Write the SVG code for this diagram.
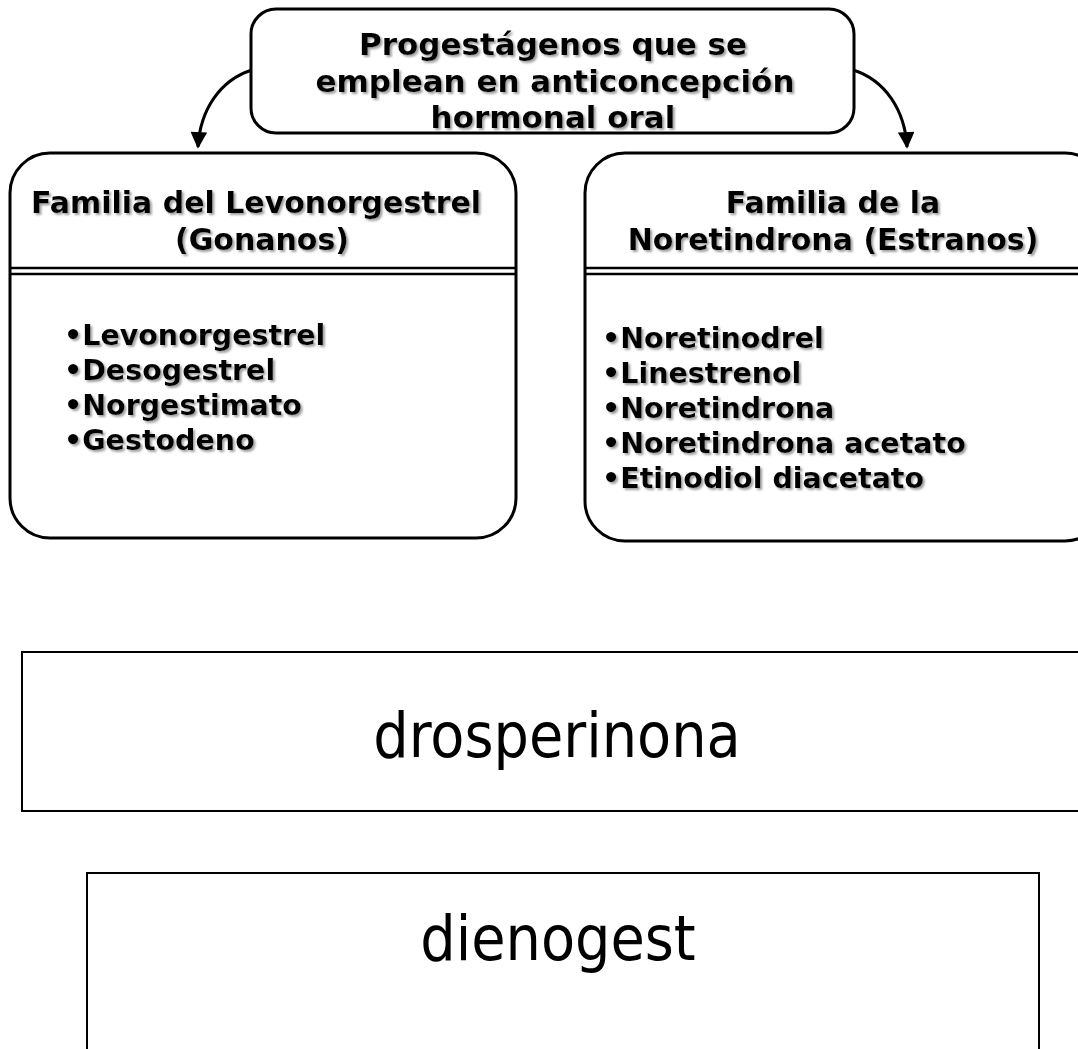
<svg xmlns="http://www.w3.org/2000/svg" width="1078" height="1049" viewBox="0 0 1078 1049">
<defs>
<filter id="sh" x="-5%" y="-20%" width="110%" height="140%">
<feDropShadow dx="2" dy="2" stdDeviation="1" flood-color="#888" flood-opacity="0.8"/>
</filter>
<marker id="ah" viewBox="0 0 10 10" refX="9" refY="5" markerWidth="6.5" markerHeight="5.5" orient="auto-start-reverse" markerUnits="strokeWidth">
<path d="M0,0 L10,5 L0,10 z" fill="#000"/>
</marker>
<style>
.box{fill:#fff;stroke:#000;stroke-width:3}
.pl{fill:#fff;stroke:#000;stroke-width:2}
.b{font-family:"DejaVu Sans",Verdana,sans-serif;font-weight:bold;fill:#000}
.h{font-size:30px}
.t{font-size:31px}
.li{font-size:28.5px}
.big{font-family:"DejaVu Sans Condensed","DejaVu Sans",sans-serif;font-size:62px;fill:#000}
.con{fill:none;stroke:#000;stroke-width:3}
</style>
</defs>
<rect width="1078" height="1049" fill="#fff"/>
<g id="connectors">
<path class="con" d="M252,70 C220,80 200,110 198,147" marker-end="url(#ah)"/>
<path class="con" d="M853,70 C885,80 905,110 907,147" marker-end="url(#ah)"/>
</g>
<g id="left">
<rect class="box" x="10" y="153" width="506" height="385" rx="40"/>
<line x1="10" y1="268" x2="516" y2="268" stroke="#000" stroke-width="2.5"/>
<line x1="10" y1="274" x2="516" y2="274" stroke="#000" stroke-width="2.5"/>
<g class="b h" filter="url(#sh)" text-anchor="middle">
<text x="256" y="213">Familia del Levonorgestrel</text>
<text x="262" y="250">(Gonanos)</text>
</g>
<g class="b li" filter="url(#sh)">
<text x="64" y="345">•Levonorgestrel</text>
<text x="64" y="380">•Desogestrel</text>
<text x="64" y="415">•Norgestimato</text>
<text x="64" y="450">•Gestodeno</text>
</g>
</g>
<g id="right">
<rect class="box" x="585" y="153" width="520" height="388" rx="40"/>
<line x1="585" y1="268" x2="1078" y2="268" stroke="#000" stroke-width="2.5"/>
<line x1="585" y1="274" x2="1078" y2="274" stroke="#000" stroke-width="2.5"/>
<g class="b h" filter="url(#sh)" text-anchor="middle">
<text x="833" y="213">Familia de la</text>
<text x="833" y="250">Noretindrona (Estranos)</text>
</g>
<g class="b li" filter="url(#sh)">
<text x="602" y="348">•Noretinodrel</text>
<text x="602" y="383">•Linestrenol</text>
<text x="602" y="418">•Noretindrona</text>
<text x="602" y="453">•Noretindrona acetato</text>
<text x="602" y="488">•Etinodiol diacetato</text>
</g>
</g>
<g id="top">
<rect class="box" x="251" y="9" width="603" height="124" rx="25"/>
<g class="b t" filter="url(#sh)" text-anchor="middle">
<text x="553" y="55">Progestágenos que se</text>
<text x="555" y="92">emplean en anticoncepción</text>
<text x="553" y="128">hormonal oral</text>
</g>
</g>
<g id="drosperinona">
<rect class="pl" x="22" y="652" width="1070" height="159"/>
<text class="big" x="557" y="757" text-anchor="middle">drosperinona</text>
</g>
<g id="dienogest">
<rect class="pl" x="87" y="873" width="952" height="200"/>
<text class="big" x="558" y="960" text-anchor="middle">dienogest</text>
</g>
</svg>
